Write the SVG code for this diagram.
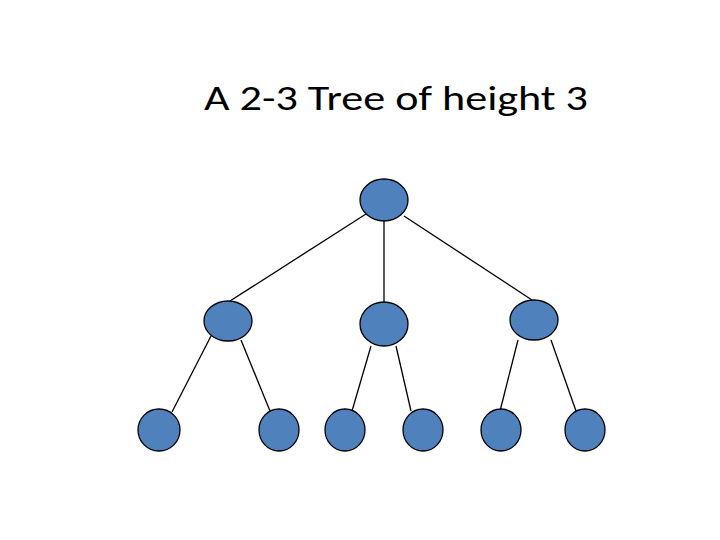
<svg xmlns="http://www.w3.org/2000/svg" width="720" height="540" viewBox="0 0 720 540">
<style>
.n{fill:#4F81BD;stroke:#000;stroke-width:1.3}
.e{stroke:#000;stroke-width:1.3;fill:none}
.t{font-family:"Carlito","Liberation Sans",sans-serif;font-size:35px;fill:#000}
</style>
<rect width="720" height="540" fill="#fff"/>
<text class="t" x="204" y="110" textLength="384" lengthAdjust="spacingAndGlyphs">A 2-3 Tree of height 3</text>
<g id="connectors">
<line class="e" x1="366" y1="214" x2="230" y2="301"/>
<line class="e" x1="384" y1="221" x2="384" y2="302"/>
<line class="e" x1="404" y1="216" x2="532" y2="300"/>
<line class="e" x1="211" y1="336" x2="172" y2="412"/>
<line class="e" x1="241" y1="340" x2="270" y2="411"/>
<line class="e" x1="371" y1="346" x2="352" y2="411"/>
<line class="e" x1="396" y1="346" x2="411" y2="411"/>
<line class="e" x1="518" y1="340" x2="500" y2="411"/>
<line class="e" x1="551" y1="340" x2="576" y2="411"/>
</g>
<g id="root"><ellipse class="n" cx="384" cy="200" rx="24" ry="21"/></g>
<g id="a"><ellipse class="n" cx="228" cy="321" rx="24" ry="20"/></g>
<g id="b"><ellipse class="n" cx="384" cy="324" rx="24" ry="22"/></g>
<g id="c"><ellipse class="n" cx="534" cy="320" rx="24" ry="20"/></g>
<g id="l1"><ellipse class="n" cx="159" cy="430" rx="21" ry="21"/></g>
<g id="l2"><ellipse class="n" cx="279" cy="430" rx="20" ry="21"/></g>
<g id="l3"><ellipse class="n" cx="345" cy="430" rx="20" ry="21"/></g>
<g id="l4"><ellipse class="n" cx="423" cy="430" rx="20" ry="21"/></g>
<g id="l5"><ellipse class="n" cx="501" cy="430" rx="20" ry="21"/></g>
<g id="l6"><ellipse class="n" cx="585" cy="430" rx="20" ry="21"/></g>
</svg>
